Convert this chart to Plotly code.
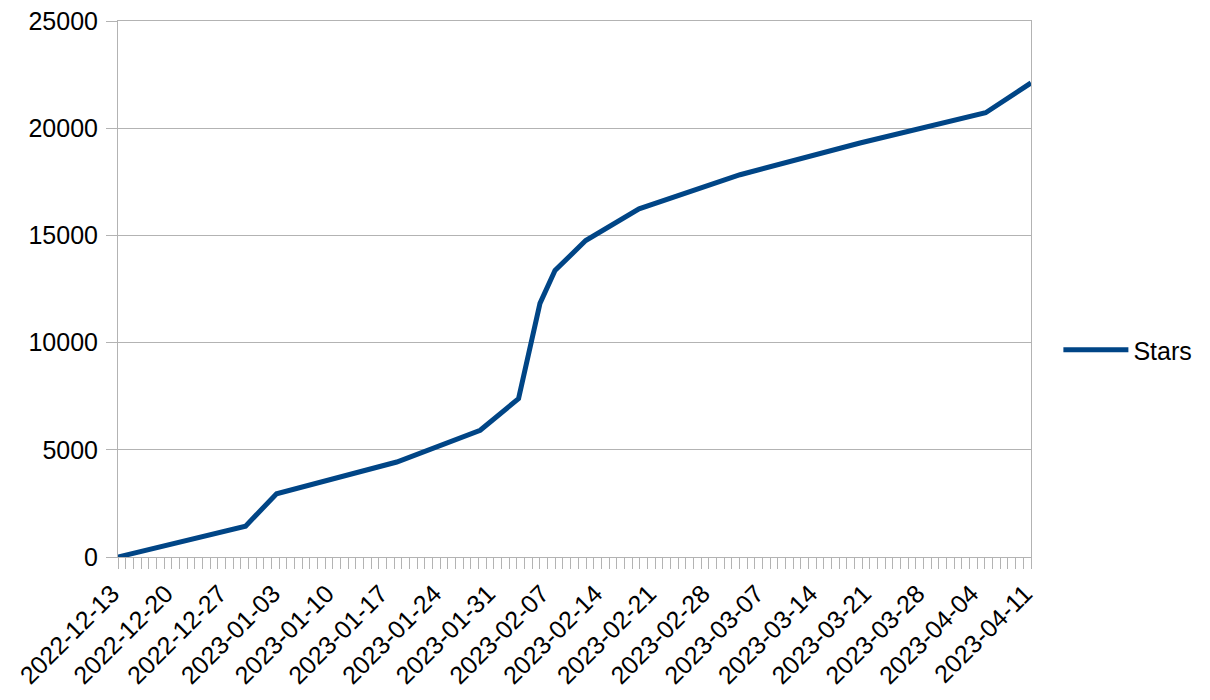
import plotly.graph_objects as go

# star history
dates = [
    "2022-12-13 00:00", "2022-12-29 15:00", "2023-01-02 16:00", "2023-01-18 08:00",
    "2023-01-29 05:00", "2023-02-03 05:00", "2023-02-06 00:00", "2023-02-07 23:00",
    "2023-02-11 23:00", "2023-02-18 22:00", "2023-03-04 02:00", "2023-03-19 17:00",
    "2023-04-05 02:00", "2023-04-11 00:00",
]
stars = [0, 1440, 2950, 4430, 5910, 7390, 11830, 13360, 14760, 16240, 17830, 19310, 20720, 22110]

tick_labels = [
    "2022-12-13", "2022-12-20", "2022-12-27", "2023-01-03", "2023-01-10", "2023-01-17",
    "2023-01-24", "2023-01-31", "2023-02-07", "2023-02-14", "2023-02-21", "2023-02-28",
    "2023-03-07", "2023-03-14", "2023-03-21", "2023-03-28", "2023-04-04", "2023-04-11",
]

grey = "#b3b3b3"
font = dict(family="Liberation Sans, Arial, sans-serif", size=25, color="black")

fig = go.Figure()
fig.add_trace(
    go.Scatter(
        x=dates, y=stars,
        mode="lines",
        name="Stars",
        line=dict(color="#004586", width=5),
    )
)

# page body has an 8px margin, so the plot box is shifted by that
fig.update_layout(
    width=1210, height=700,
    margin=dict(l=110, r=187, t=13, b=151, autoexpand=False),
    paper_bgcolor="white", plot_bgcolor="white",
    font=font,
    showlegend=True,
    legend=dict(x=1.03, y=0.386, xanchor="left", yanchor="middle",
                font=font, itemwidth=65, bgcolor="rgba(0,0,0,0)"),
)

fig.update_xaxes(
    type="date",
    range=["2022-12-13", "2023-04-11"],
    tickmode="array",
    tickvals=tick_labels,
    ticktext=tick_labels,
    tickangle=-45,
    ticks="outside", ticklen=11, tickcolor=grey, tickwidth=1,
    minor=dict(ticks="outside", ticklen=11, tickcolor=grey, tickwidth=1,
               dtick=86400000, tick0="2022-12-13", showgrid=False),
    showgrid=False,
    showline=True, linecolor=grey, linewidth=1, mirror=True,
    zeroline=False,
    automargin=False,
    ticklabeloverflow="allow",
    ticklabelshift=-6,
    tickfont=font,
)

fig.update_yaxes(
    range=[0, 25000],
    tickmode="linear", tick0=0, dtick=5000, tickformat="d",
    ticks="outside", ticklen=11, tickcolor=grey, tickwidth=1,
    ticklabelstandoff=3,
    showgrid=True, gridcolor=grey, gridwidth=1,
    showline=True, linecolor=grey, linewidth=1, mirror=True,
    zeroline=False,
    automargin=False,
    ticklabeloverflow="allow",
    tickfont=font,
)

fig.write_html("out.html")
